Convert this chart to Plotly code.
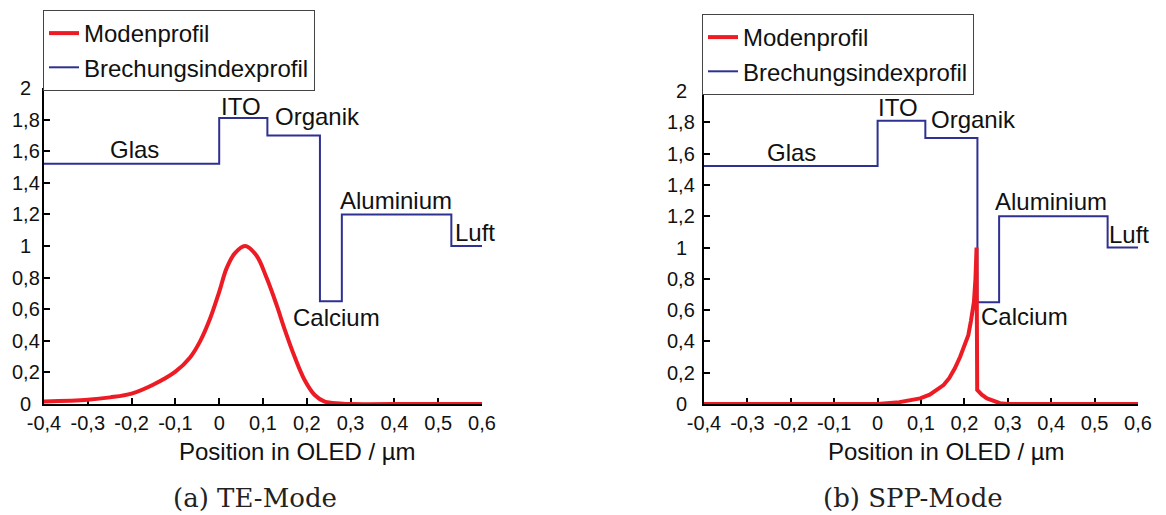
import plotly.graph_objects as go

W, H = 1166, 515

# ---------------- data ----------------
# refractive index profile (layer start positions in µm, index of layer)
layer_x = [-0.4, 0.0, 0.11, 0.23, 0.28, 0.53, 0.6]
layer_n = [1.52, 1.81, 1.70, 0.65, 1.20, 1.00, 1.00]
layer_names = ["Glas", "ITO", "Organik", "Calcium", "Aluminium", "Luft"]

# TE mode profile
te_x = [-0.4, -0.3, -0.249, -0.2, -0.151, -0.1, -0.0665, -0.044, -0.021, 0.0, 0.017,
        0.036, 0.059, 0.085, 0.108, 0.131, 0.150, 0.172, 0.195, 0.218, 0.241, 0.276,
        0.3, 0.45, 0.6]
te_y = [0.016, 0.027, 0.042, 0.066, 0.122, 0.205, 0.295, 0.395, 0.54, 0.71, 0.86,
        0.955, 1.0, 0.94, 0.80, 0.627, 0.468, 0.30, 0.152, 0.057, 0.015, 0.004,
        0.0, 0.0, 0.0]

# SPP mode profile
spp_x = [-0.4, 0.0, 0.05, 0.098, 0.12, 0.14, 0.152, 0.165, 0.178, 0.19, 0.2,
         0.209, 0.215, 0.222, 0.2255, 0.228, 0.2295, 0.24, 0.252, 0.282, 0.3, 0.6]
spp_y = [0.0, 0.0, 0.012, 0.036, 0.06, 0.095, 0.121, 0.165, 0.228, 0.30, 0.38,
         0.44, 0.53, 0.653, 0.80, 1.0, 0.09, 0.06, 0.036, 0.005, 0.0, 0.0]

x_ticks = [-0.4, -0.3, -0.2, -0.1, 0, 0.1, 0.2, 0.3, 0.4, 0.5, 0.6]
x_ticktext = ["-0,4", "-0,3", "-0,2", "-0,1", "0", "0,1", "0,2", "0,3", "0,4", "0,5", "0,6"]
y_ticks = [0, 0.2, 0.4, 0.6, 0.8, 1, 1.2, 1.4, 1.6, 1.8, 2]
y_ticktext = ["0", "0,2", "0,4", "0,6", "0,8", "1", "1,2", "1,4", "1,6", "1,8", "2"]

# label positions (x, y) in data units for each subplot
labels_a = {"Glas": (-0.193, 1.61), "ITO": (0.049, 1.886), "Organik": (0.225, 1.82),
            "Calcium": (0.267, 0.549), "Aluminium": (0.403, 1.29), "Luft": (0.584, 1.087)}
labels_b = {"Glas": (-0.198, 1.61), "ITO": (0.047, 1.893), "Organik": (0.22, 1.82),
            "Calcium": (0.339, 0.56), "Aluminium": (0.40, 1.295), "Luft": (0.58, 1.083)}

captions = ["(a) TE-Mode", "(b) SPP-Mode"]
xtitle = "Position in OLED / µm"

RED = "#ed1c24"
BLUE = "#2e3192"
FONT = "Liberation Sans, Arial, sans-serif"

fig = go.Figure()

for i, (mx, my, lg) in enumerate([(te_x, te_y, "legend"), (spp_x, spp_y, "legend2")]):
    xa = "x" if i == 0 else "x2"
    ya = "y" if i == 0 else "y2"
    fig.add_trace(go.Scatter(x=layer_x, y=layer_n, mode="lines", line=dict(color=BLUE, width=2, shape="hv"),
                             name="Brechungsindexprofil", xaxis=xa, yaxis=ya, legend=lg, legendrank=2))
    fig.add_trace(go.Scatter(x=mx, y=my, mode="lines",
                             line=dict(color=RED, width=4, shape="spline" if i == 0 else "linear", smoothing=1.0),
                             name="Modenprofil", xaxis=xa, yaxis=ya, legend=lg, legendrank=1))

axis_common = dict(showline=True, linecolor="black", linewidth=2, ticks="inside", ticklen=6,
                   tickwidth=1.5, tickcolor="black", showgrid=False, zeroline=False, automargin=False,
                   tickfont=dict(family=FONT, size=20, color="#111"), layer="below traces")

y0 = 1 - 404 / H
legend_common = dict(xanchor="left", yanchor="top", bgcolor="white",
                     bordercolor="#444", borderwidth=1, itemwidth=30, tracegroupgap=0,
                     font=dict(family=FONT, size=24, color="#111"))
fig.update_layout(
    width=W, height=H, autosize=False,
    margin=dict(l=0, r=0, t=0, b=0, autoexpand=False),
    paper_bgcolor="white", plot_bgcolor="white",
    separators=",.",
    xaxis=dict(domain=[44 / W, 482 / W], range=[-0.4, 0.6], tickvals=x_ticks, ticktext=x_ticktext,
               anchor="y", **axis_common),
    yaxis=dict(domain=[y0, 1 - 88 / H], range=[0, 2], tickvals=y_ticks, showticklabels=False,
               anchor="x", **axis_common),
    xaxis2=dict(domain=[704 / W, 1138 / W], range=[-0.4, 0.6], tickvals=x_ticks, ticktext=x_ticktext,
                anchor="y2", **axis_common),
    yaxis2=dict(domain=[y0, 1 - 91 / H], range=[0, 2], tickvals=y_ticks, showticklabels=False,
                anchor="x2", **axis_common),
    legend=dict(x=43 / W, y=1 - 10 / H, **legend_common),
    legend2=dict(x=702 / W, y=1 - 14 / H, **legend_common),
)

annotations = []
# y tick labels, centred in the column left of each axis (as in the reference)
for yref, cx in [("y", 25.5), ("y2", 681.0)]:
    for tv, tt in zip(y_ticks, y_ticktext):
        annotations.append(dict(x=cx / W, y=tv, xref="paper", yref=yref, text=tt, showarrow=False,
                                xanchor="center", yanchor="middle",
                                font=dict(family=FONT, size=20, color="#111")))

for labels, xr, yr in [(labels_a, "x", "y"), (labels_b, "x2", "y2")]:
    for name in layer_names:
        lx, ly = labels[name]
        annotations.append(dict(x=lx, y=ly, xref=xr, yref=yr, text=name, showarrow=False,
                                xanchor="center", yanchor="middle",
                                font=dict(family=FONT, size=24, color="#111")))

for cx, cap in zip([297.5, 946.5], [xtitle, xtitle]):
    annotations.append(dict(x=cx / W, y=1 - 451.7 / H, xref="paper", yref="paper", text=cap,
                            showarrow=False, xanchor="center", yanchor="middle",
                            font=dict(family=FONT, size=24, color="#111")))
for cx, cap in zip([255, 912.8], captions):
    annotations.append(dict(x=cx / W, y=1 - 498 / H, xref="paper", yref="paper", text=cap,
                            showarrow=False, xanchor="center", yanchor="middle",
                            font=dict(family="DejaVu Serif, serif", size=26, color="#222")))

fig.update_layout(annotations=annotations)
fig.write_html("out.html")
